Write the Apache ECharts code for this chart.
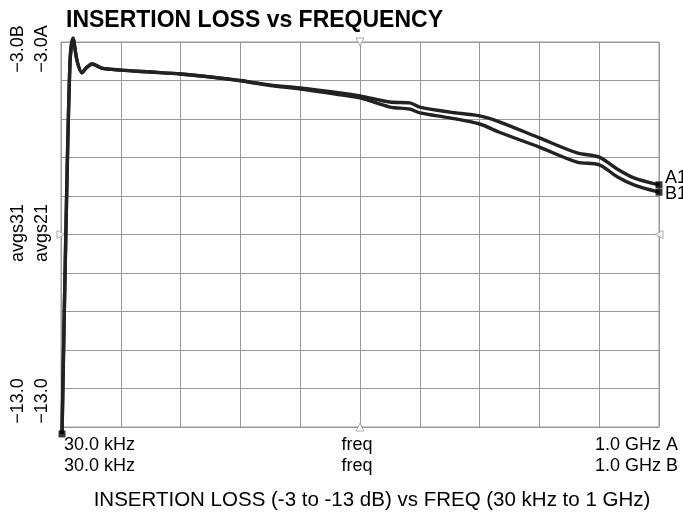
<!DOCTYPE html>
<html>
<head>
<meta charset="utf-8">
<title>Insertion loss vs frequency</title>
<script src="https://cdn.jsdelivr.net/npm/echarts@6/dist/echarts.min.js"></script>
<style>
  html, body { margin: 0; padding: 0; background: #fff; }
  #chart { width: 683px; height: 517px; }
</style>
</head>
<body>
<div id="chart"></div>
<script>
// x in screen divisions (0 = 30 kHz, 10 = 1 GHz), y in dB
const xDiv  = [0.017, 0.08, 0.15, 0.2, 0.27, 0.35, 0.43, 0.52, 0.68, 1.0, 1.5, 2.0, 2.5, 3.0, 3.5,
               4.0, 4.67, 5.0, 5.5, 5.83, 6.0, 6.5, 7.0, 7.34, 8.0, 8.63, 9.0, 9.3, 9.58, 10.0];
const lossA = [-13.18, -8.05, -3.55, -2.9, -3.5, -3.8, -3.66, -3.57, -3.68, -3.73, -3.78, -3.83, -3.91, -4.0, -4.12,
               -4.19, -4.32, -4.40, -4.56, -4.58, -4.69, -4.82, -4.92, -5.08, -5.49, -5.88, -5.99, -6.3, -6.53, -6.71];
const lossB = [-13.18, -8.05, -3.55, -2.9, -3.5, -3.8, -3.66, -3.57, -3.68, -3.73, -3.78, -3.83, -3.91, -4.01, -4.13,
               -4.22, -4.37, -4.45, -4.69, -4.74, -4.84, -4.97, -5.13, -5.35, -5.73, -6.12, -6.19, -6.5, -6.71, -6.90];
const traceNames = ['A1', 'B1'];

const yTopLabels = ['\u22123.0B', '\u22123.0A'];
const yMidLabels = ['avgs31', 'avgs21'];
const yBotLabels = ['\u221213.0', '\u221213.0'];
const xLeftLabels = ['30.0 kHz', '30.0 kHz'];
const xMidLabels = ['freq', 'freq'];
const xRightLabels = ['1.0 GHz A', '1.0 GHz B'];
const refMarks = [[5, -3], [0, -8], [5, -13], [10, -8]];

const FONT = '"Liberation Sans", Arial, Helvetica, sans-serif';
const chart = echarts.init(document.getElementById('chart'));

const pairs = ys => xDiv.map((x, i) => [x, ys[i]]);

// rotated y labels (two columns) and stacked x labels (two rows)
const graphic = [];
const colX = [18, 42];
[[yTopLabels, 49], [yMidLabels, 233], [yBotLabels, 401]].forEach(([labels, cy]) => {
  labels.forEach((t, i) => graphic.push({
    type: 'text', x: colX[i], y: cy, rotation: Math.PI / 2,
    style: { text: t, fontSize: 18, fontFamily: FONT, fill: '#000', align: 'center', verticalAlign: 'middle' }
  }));
});
const rowY = [445, 466];
[[xLeftLabels, 64, 'left'], [xMidLabels, 357, 'center'], [xRightLabels, 678, 'right']].forEach(([labels, x, al]) => {
  labels.forEach((t, i) => graphic.push({
    type: 'text', x: x, y: rowY[i],
    style: { text: t, fontSize: 18, fontFamily: FONT, fill: '#000', align: al, verticalAlign: 'middle' }
  }));
});
graphic.push({
  type: 'text', x: 372, y: 500,
  style: { text: 'INSERTION LOSS (-3 to -13 dB) vs FREQ (30 kHz to 1 GHz)', fontSize: 20.5, fontFamily: FONT,
           fill: '#000', align: 'center', verticalAlign: 'middle' }
});

const traceSeries = [lossA, lossB].map((ys, k) => ({
  name: traceNames[k],
  type: 'line',
  data: pairs(ys),
  symbol: 'none',
  smooth: 0.3,
  clip: false,
  lineStyle: { color: '#222', width: 3.4 },
  endLabel: {
    show: true, formatter: traceNames[k], color: '#000', fontSize: 18, fontFamily: FONT,
    distance: 6, offset: k === 0 ? [0, -7] : [0, 2]
  },
  z: 3 + k
}));

chart.setOption({
  animation: false,
  title: {
    text: 'INSERTION LOSS vs FREQUENCY',
    left: 61, top: 4,
    textStyle: { fontSize: 23, fontWeight: 'bold', fontFamily: FONT, color: '#000' }
  },
  grid: { left: 61, top: 42, width: 598, height: 385, show: true, borderColor: '#999', borderWidth: 1 },
  xAxis: {
    type: 'value', min: 0, max: 10, interval: 1,
    axisLine: { show: false }, axisTick: { show: false }, axisLabel: { show: false },
    splitLine: { show: true, lineStyle: { color: '#999', width: 1 } }
  },
  yAxis: {
    type: 'value', min: -13, max: -3, interval: 1,
    axisLine: { show: false }, axisTick: { show: false }, axisLabel: { show: false },
    splitLine: { show: true, lineStyle: { color: '#999', width: 1 } }
  },
  graphic: graphic,
  series: traceSeries.concat([
    {
      type: 'scatter',
      data: [[xDiv[0], lossA[0]], [xDiv[xDiv.length - 1], lossA[lossA.length - 1]],
             [xDiv[xDiv.length - 1], lossB[lossB.length - 1]]],
      symbol: 'rect', symbolSize: 7, clip: false,
      itemStyle: { color: '#000' }, z: 6
    },
    {
      type: 'scatter',
      data: refMarks.map((p, i) => ({ value: p, symbolRotate: [180, -90, 0, 90][i] })),
      symbol: 'triangle', symbolSize: 8, clip: false,
      itemStyle: { color: '#fff', borderColor: '#999', borderWidth: 1 }, z: 2
    }
  ])
});
</script>
</body>
</html>
